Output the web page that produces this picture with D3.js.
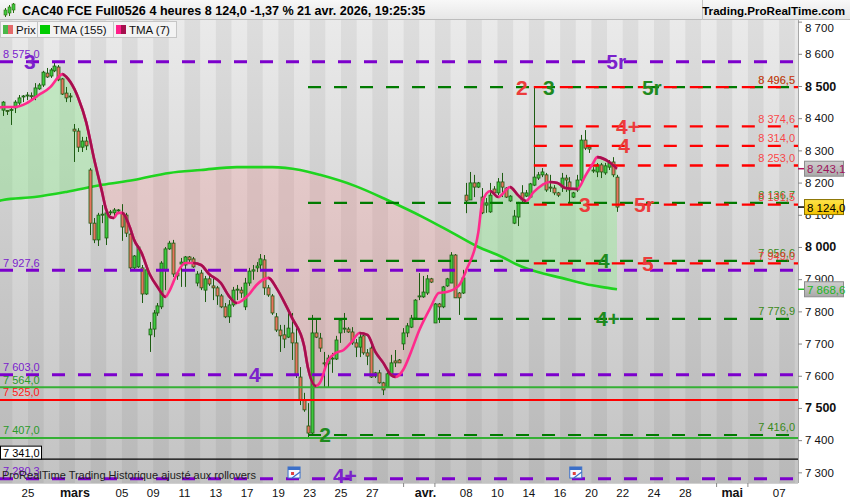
<!DOCTYPE html>
<html><head><meta charset="utf-8">
<script src="https://cdn.jsdelivr.net/npm/d3@7"></script>
<style>body{margin:0;background:#fff;} svg{display:block;font-family:"Liberation Sans",Arial,sans-serif;}</style>
</head><body><svg id="c" width="850" height="500"></svg>
<script>
// ---------- DATA ----------
const opens = [8425,8424,8425,8432,8447,8466,8469,8470,8466,8491,8503,8540,8531,8547,8559,8522,8478,8469,8366,8360,
8310,8329,8239,8074,8022,8099,8028,8106,8106,8112,8106,8099,8040,7935,7938,7935,7854,7727,7745,7795,
7814,7929,7994,8012,7919,7947,7944,7969,7963,7888,7919,7866,7901,7879,7873,7848,7814,7783,7820,7866,
7866,7814,7888,7925,7935,7944,7960,7873,7848,7783,7742,7727,7720,7733,7702,7596,7525,7444,7422,7733,
7717,7640,7637,7652,7652,7733,7745,7745,7736,7702,7689,7724,7671,7686,7609,7609,7578,7565,7602,7646,
7649,7699,7733,7751,7779,7845,7845,7857,7901,7764,7823,7814,7879,7888,7975,7857,7857,8161,8146,8199,
8186,8155,8130,8109,8180,8168,8202,8183,8143,8074,8093,8168,8158,8155,8192,8214,8224,8224,8186,8183,
8168,8186,8214,8202,8155,8177,8208,8332,8310,8236,8233,8255,8230,8248,8264,8217];
const highs = [8453,8425,8435,8456,8472,8472,8481,8480,8509,8509,8547,8556,8556,8575,8565,8525,8497,8478,8382,8369,
8342,8342,8245,8090,8106,8130,8112,8115,8121,8118,8133,8106,8043,7975,8006,7944,7935,7767,7804,7826,
7956,8000,8019,8022,7925,7966,7972,7972,7969,7925,7929,7910,7919,7904,7879,7854,7826,7835,7876,7882,
7876,7904,7935,7944,7953,7978,7975,7882,7854,7795,7758,7758,7795,7795,7751,7627,7547,7515,7789,7773,
7733,7674,7665,7671,7724,7779,7795,7751,7751,7714,7736,7733,7683,7711,7612,7618,7581,7618,7665,7680,
7652,7748,7764,7789,7838,7919,7910,7913,7904,7826,7826,7879,7904,7984,7978,7860,7929,8199,8233,8224,
8202,8183,8152,8199,8189,8214,8230,8186,8161,8115,8140,8192,8177,8199,8496.5,8233,8245,8230,8224,8192,
8171,8230,8224,8217,8171,8224,8348,8363,8317,8248,8261,8261,8261,8270,8279,8224];
const lows = [8407,8410,8379,8416,8435,8450,8456,8457,8456,8488,8497,8525,8525,8543,8515,8472,8450,8450,8264,8295,
8295,8301,8037,8012,8003,8074,8006,8099,8090,8102,8019,8031,7925,7929,7935,7826,7851,7674,7720,7786,
7807,7866,7991,7907,7898,7876,7876,7953,7935,7878,7866,7829,7879,7835,7820,7810,7779,7764,7814,7835,
7842,7804,7879,7898,7922,7925,7851,7845,7789,7736,7674,7686,7717,7649,7593,7509,7488,7407,7419,7717,
7674,7565,7565,7609,7649,7702,7733,7733,7696,7658,7658,7665,7633,7593,7593,7575,7540,7565,7596,7627,
7640,7680,7720,7748,7773,7835,7842,7851,7888,7764,7764,7810,7876,7888,7842,7789,7854,8105,8146,8155,
8183,8102,8106,8106,8161,8161,8155,8152,8140,8071,8065,8140,8155,8152,8189,8208,8217,8171,8171,8161,
8155,8171,8171,8137,8152,8171,8202,8301,8292,8230,8217,8214,8224,8239,8217,8109];
const closes = [8450,8421,8427,8450,8463,8469,8472,8468,8494,8503,8543,8528,8550,8562,8519,8475,8463,8466,8360,8310,
8329,8314,8074,8022,8099,8102,8106,8109,8115,8115,8062,8043,7935,7972,8000,7854,7929,7745,7795,7817,
7950,7994,8012,7916,7910,7953,7969,7960,7938,7916,7873,7901,7885,7873,7848,7814,7783,7820,7866,7869,
7857,7888,7925,7929,7941,7963,7873,7851,7795,7742,7724,7714,7748,7702,7602,7525,7494,7422,7733,7720,
7686,7637,7655,7655,7711,7773,7748,7736,7702,7689,7720,7671,7661,7596,7599,7578,7556,7606,7640,7640,
7640,7733,7755,7779,7835,7848,7860,7901,7891,7823,7814,7876,7901,7975,7842,7842,7904,8143,8199,8186,
8199,8106,8137,8161,8168,8202,8186,8155,8158,8096,8137,8146,8168,8196,8217,8224,8233,8177,8183,8168,
8161,8214,8208,8177,8168,8208,8332,8307,8304,8239,8255,8233,8252,8261,8224,8124];

const tma7Idx = [-1,0,3,6,9,12,14,15,16,18,19,21,23,25,26,27,28,29,30,32,33,35,37,39,41,42,44,46,48,50,52,55,57,59,62,64,67,69,71,73,76,77,79,80,82,84,86,88,90,92,94,96,98,99,101,103,105,108,110,112,115,117,120,121,123,125,128,130,132,134,138,140,142,145,147,149,150,153,155];
const tma7Val = [8433,8435,8435,8447,8472,8497,8528,8537,8528,8491,8463,8388,8273,8171,8118,8093,8090,8106,8106,8062,8025,7981,7916,7876,7845,7863,7919,7950,7950,7944,7916,7888,7848,7826,7851,7882,7904,7873,7829,7779,7693,7624,7568,7578,7646,7671,7680,7705,7733,7727,7674,7640,7602,7596,7618,7674,7739,7814,7857,7860,7879,7929,8047,8140,8174,8155,8186,8161,8143,8171,8202,8199,8183,8180,8221,8261,8279,8264,8243.1];
const tma155Idx = [-1,0,8,16,25,33,42,50,59,68,75,80,89,97,106,113,120,126,130,135,141,147,151,155];
const tma155Val = [8143,8146,8155,8171,8193,8208,8230,8239,8248,8248,8239,8224,8189,8146,8093,8047,8000,7969,7944,7922,7904,7885,7876,7868.6];

const purpleLevels = [8575.0, 7927.6, 7603.0, 7280.3];
const greenLevels = [8496.5, 8136.7, 7956.6, 7776.9, 7416.0];
const redLevels = [8496.5, 8374.6, 8314.0, 8253.0, 8131.5, 7949.0];
const solidGreen = [7564.0, 7407.0];
const solidRed = [7525.0];
const solidBlack = [7341.0];
const greenStart = 77, redStart = 134;

const annText  = ["3","4","4+","5r","2","3","5r","4+","4","3","5r","4","5","4+","2"];
const annLevel = [8575.0,7603.0,7280.3,8575.0,8496.5,8496.5,8496.5,8374.6,8314.0,8131.5,8131.5,7956.6,7949.0,7776.9,7416.0];
const annSlot  = [6.8,63.6,86.3,154.8,131,137.8,163.8,157.8,156.8,146.9,161.8,151.7,162.8,152.7,81.3];
const annKind  = ["p","p","p","p","r","g","g","r","r","r","r","g","r","g","g"];

const yTicks = [7300,7400,7500,7600,7700,7800,7900,8000,8100,8200,8300,8400,8500,8600,8700];
const yBold = [7500,8000,8500];
const dayLabels = ["25","mars","05","09","11","13","17","19","23","25","27","avr.","08","10","14","16","20","22","24","28","mai","07"];
const dayLabelPos = [0,3,6,8,10,12,14,16,18,20,22,25.4,28,30,32,34,36,38,40,42,45,48];
const monthLabels = ["mars","avr.","mai"];
const monthTickDays = [24,26,44,46];
const eventDays = [17,35];
const lastClose = 8124.0, lastTma7 = 8243.1, lastTma155 = 7868.6;

// ---------- SETUP ----------
const svg = d3.select('#c');
const PR = 798, PT = 20, PB = 483;
const x = d3.scaleLinear().domain([0,155]).range([3,617]);
const xd = d3.scaleLinear().domain([0,48]).range([28,779.2]);
const y = d3.scaleLinear().domain([7270,8705]).range([482,20]);
const fr = (v,dec) => { const s=v.toFixed(dec); const [a,b]=s.split('.'); const A=a.replace(/\B(?=(\d{3})+(?!\d))/g,' '); return b!==undefined? A+','+b : A; };

const defs = svg.append('defs');
const bg = defs.append('linearGradient').attr('id','bg').attr('x1',0).attr('y1',0).attr('x2',0).attr('y2',1);
bg.append('stop').attr('offset','0%').attr('stop-color','#eaeaea');
bg.append('stop').attr('offset','100%').attr('stop-color','#c3c3c3');
defs.append('clipPath').attr('id','plot').append('rect').attr('x',0).attr('y',PT).attr('width',PR).attr('height',PB-PT);

svg.append('rect').attr('width',850).attr('height',500).attr('fill','#fff');
const plot = svg.append('g').attr('clip-path','url(#plot)');
plot.append('rect').attr('x',0).attr('y',PT).attr('width',PR).attr('height',PB-PT).attr('fill','url(#bg)');
for (let d=-2; d<=50; d++) {
  if (d%2===0) plot.append('rect').attr('x',xd(d)).attr('y',PT).attr('width',xd(d+1)-xd(d)).attr('height',PB-PT).attr('fill','rgba(0,0,0,0.055)');
}

// TMA fills
const t7 = tma7Idx.map((i,k)=>[i,tma7Val[k]]);
const t155 = tma155Idx.map((i,k)=>[i,tma155Val[k]]);
const curve = d3.curveMonotoneX;
const areaTop = d3.area().x(d=>x(d[0])).y0(PT-5).y1(d=>y(d[1])).curve(curve);
const areaBot = d3.area().x(d=>x(d[0])).y0(PB+5).y1(d=>y(d[1])).curve(curve);
defs.append('clipPath').attr('id','above155').append('path').attr('d',areaTop(t155));
defs.append('clipPath').attr('id','below155').append('path').attr('d',areaBot(t155));
plot.append('g').attr('clip-path','url(#above155)').append('path').attr('d',areaBot(t7)).attr('fill','rgba(120,235,120,0.32)');
plot.append('g').attr('clip-path','url(#below155)').append('path').attr('d',areaTop(t7)).attr('fill','rgba(250,140,140,0.24)');

const line = d3.line().x(d=>x(d[0])).y(d=>y(d[1])).curve(curve);
plot.append('path').attr('d',line(t155)).attr('fill','none').attr('stroke','#1fd41f').attr('stroke-width',2.6);

// candles
const cg = plot.append('g');
opens.forEach((o,i)=>{
  const c = closes[i], h = highs[i], l = lows[i];
  const cx = Math.round(x(i))+0.5;
  cg.append('line').attr('x1',cx).attr('x2',cx).attr('y1',y(h)).attr('y2',y(l)).attr('stroke','#1d5c12').attr('stroke-width',1);
  const top = y(Math.max(o,c)), bot = y(Math.min(o,c));
  cg.append('rect').attr('x',cx-1.5).attr('y',top).attr('width',3).attr('height',Math.max(1,bot-top))
    .attr('fill', c>=o ? '#3fc83f' : '#e8735f').attr('stroke','#1d5c12').attr('stroke-width',0.8);
});

// levels
const lv = plot.append('g');
function hline(v, x0, color, w, dash){
  const l = lv.append('line').attr('x1',x0).attr('x2',PR).attr('y1',y(v)).attr('y2',y(v)).attr('stroke',color).attr('stroke-width',w);
  if (dash) l.attr('stroke-dasharray',dash);
}
purpleLevels.forEach(v=>hline(v,0,'#7c00cc',3,'13,13'));
greenLevels.forEach(v=>hline(v,x(greenStart),'#007a00',2.2,'13,13'));
redLevels.forEach(v=>hline(v,x(redStart),'#ff0000',2.4,'13,13'));
solidGreen.forEach(v=>hline(v,0,'#35b035',2));
solidRed.forEach(v=>hline(v,0,'#ff0000',2));
solidBlack.forEach(v=>hline(v,0,'#000',1.2));

// TMA7 line: pink when rising, crimson when falling
plot.append('path').attr('d',line(t7)).attr('fill','none').attr('stroke','#ff2a8c').attr('stroke-width',2.6);
const fallClip = defs.append('clipPath').attr('id','fall');
for (let k=1;k<t7.length;k++){
  if (t7[k][1] < t7[k-1][1]) fallClip.append('rect').attr('x',x(t7[k-1][0])).attr('y',0).attr('width',x(t7[k][0])-x(t7[k-1][0])+0.3).attr('height',500);
}
plot.append('g').attr('clip-path','url(#fall)').append('path').attr('d',line(t7)).attr('fill','none').attr('stroke','#a5104e').attr('stroke-width',2.6);

// big annotations
const annColor = {p:'#7b22cc', r:'#ec3b3b', g:'#1e8a1e'};
annText.forEach((t,k)=>{
  plot.append('text').attr('x',x(annSlot[k])).attr('y',Math.min(y(annLevel[k])+7.5, PB)).attr('text-anchor','middle')
    .attr('font-size',21).attr('font-weight','bold').attr('fill',annColor[annKind[k]]).text(t);
});

// right level labels
greenLevels.forEach(v=>plot.append('text').attr('x',795).attr('y',y(v)-3.5).attr('text-anchor','end').attr('font-size',11).attr('fill','#3a8a1a').text(fr(v,1)));
redLevels.forEach(v=>plot.append('text').attr('x',795).attr('y',y(v)-3.5).attr('text-anchor','end').attr('font-size',11).attr('fill','#ff2a2a').attr('fill-opacity',0.85).text(fr(v,1)));

// left labels
purpleLevels.forEach(v=>plot.append('text').attr('x',3).attr('y',y(v)-3.5).attr('font-size',11).attr('fill','#7b22cc').text(fr(v,1)));
solidGreen.forEach(v=>plot.append('text').attr('x',3).attr('y',y(v)-3.5).attr('font-size',11).attr('fill','#2a9a2a').text(fr(v,1)));
solidRed.forEach(v=>plot.append('text').attr('x',3).attr('y',y(v)-3.5).attr('font-size',11).attr('fill','#ff1a1a').text(fr(v,1)));
solidBlack.forEach(v=>{
  plot.append('rect').attr('x',0.5).attr('y',y(v)-13).attr('width',41).attr('height',13).attr('fill','#fff').attr('stroke','#000').attr('stroke-width',1);
  plot.append('text').attr('x',3).attr('y',y(v)-2.5).attr('font-size',11).attr('fill','#000').text(fr(v,1));
});

// footer text + event icons
plot.append('text').attr('x',2).attr('y',479).attr('font-size',11).attr('fill','#222').text('ProRealTime Trading  Historique ajusté aux rollovers');
eventDays.forEach(d=>{
  const cx = xd(d), g = plot.append('g').attr('transform',`translate(${cx-6},467)`);
  g.append('rect').attr('width',12).attr('height',11).attr('fill','#f4f8ff').attr('stroke','#3b6fc8').attr('stroke-width',1);
  g.append('rect').attr('width',12).attr('height',3).attr('fill','#3b6fc8');
  g.append('rect').attr('x',3).attr('y',5).attr('width',3).attr('height',3).attr('fill','#e04040');
  g.append('line').attr('x1',4).attr('y1',11).attr('x2',12).attr('y2',5).attr('stroke','#3b6fc8').attr('stroke-width',1.2);
});

// ---------- AXES ----------
svg.append('rect').attr('x',PR).attr('y',PT).attr('width',850-PR).attr('height',500-PT).attr('fill','#fff');
svg.append('rect').attr('x',0).attr('y',PB).attr('width',PR).attr('height',500-PB).attr('fill','#fff');
const yAxis = d3.axisRight(y).tickValues(yTicks).tickSize(4).tickSizeOuter(0).tickFormat(v=>fr(v,0));
const ya = svg.append('g').attr('transform',`translate(${PR},0)`).call(yAxis);
ya.select('.domain').attr('stroke','#a8a8a8').attr('d',`M0.5,${PT}V${PB}`);
ya.selectAll('.tick line').attr('stroke','#888');
ya.selectAll('.tick text').attr('x',7).attr('fill','#111').attr('font-family','"Liberation Sans",Arial,sans-serif')
  .attr('font-size',d=>yBold.includes(d)?12.5:11.5).attr('font-weight',d=>yBold.includes(d)?'bold':'normal')
  .attr('transform',d=>y(d)<28?`translate(0,${28-y(d)})`:null);
svg.append('line').attr('x1',0).attr('x2',PR).attr('y1',PB+0.5).attr('y2',PB+0.5).attr('stroke','#d0d0d0');

dayLabels.forEach((t,k)=>{
  const m = monthLabels.includes(t);
  svg.append('text').attr('x',xd(dayLabelPos[k])).attr('y',497).attr('text-anchor','middle')
    .attr('font-size',m?12.5:11.5).attr('font-weight',m?'bold':'normal').attr('fill','#111').text(t);
});
monthTickDays.forEach(d=>svg.append('line').attr('x1',xd(d)).attr('x2',xd(d)).attr('y1',PB).attr('y2',PB+4).attr('stroke','#888'));

// price boxes
function priceBox(v, fill1, fill2, stroke, txt, tick){
  const yy = y(v), id = 'pb'+Math.round(v);
  const gr = defs.append('linearGradient').attr('id',id).attr('x1',0).attr('y1',0).attr('x2',0).attr('y2',1);
  gr.append('stop').attr('offset','0%').attr('stop-color',fill1);
  gr.append('stop').attr('offset','100%').attr('stop-color',fill2);
  svg.append('line').attr('x1',PR).attr('x2',805).attr('y1',yy).attr('y2',yy).attr('stroke',tick).attr('stroke-width',1.5);
  svg.append('rect').attr('x',804.5).attr('y',yy-7.5).attr('width',39).attr('height',15).attr('fill',`url(#${id})`).attr('stroke',stroke);
  svg.append('text').attr('x',807).attr('y',yy+4.5).attr('font-size',11.5).attr('fill',txt).text(fr(v,1));
}
priceBox(lastTma7,'#cfcfcf','#a9a9a9','#8c8c8c','#a0155c','#b0155c');
priceBox(lastClose,'#ffe44a','#f2c200','#8a7200','#000','#000');
priceBox(lastTma155,'#cfcfcf','#a9a9a9','#8c8c8c','#22b422','#22c022');

// ---------- HEADER & LEGEND ----------
const hg = defs.append('linearGradient').attr('id','hdr').attr('x1',0).attr('y1',0).attr('x2',0).attr('y2',1);
hg.append('stop').attr('offset','0%').attr('stop-color','#f8f8f8');
hg.append('stop').attr('offset','100%').attr('stop-color','#e6e6e6');
svg.append('rect').attr('x',0).attr('y',0).attr('width',850).attr('height',PT).attr('fill','url(#hdr)');
svg.append('line').attr('x1',0).attr('x2',850).attr('y1',PT-0.5).attr('y2',PT-0.5).attr('stroke','#bdbdbd');
svg.append('line').attr('x1',702.5).attr('x2',702.5).attr('y1',0).attr('y2',PT).attr('stroke','#c4c4c4');
[[5,8,14,10,12],[9,5,13,7,10],[13,3,10,4,7]].forEach(([cx,t,b,bt,bb])=>{
  svg.append('line').attr('x1',cx+0.5).attr('x2',cx+0.5).attr('y1',t).attr('y2',b+3).attr('stroke','#2e6e10');
  svg.append('rect').attr('x',cx-1).attr('y',bt).attr('width',3).attr('height',bb-bt+3).attr('fill','#3fc83f').attr('stroke','#2e6e10').attr('stroke-width',0.6);
});
svg.append('text').attr('x',22).attr('y',15).attr('font-size',12.6).attr('font-weight','bold').attr('fill','#000')
  .text('CAC40 FCE Full0526 4 heures 8 124,0 -1,37 % 21 avr. 2026, 19:25:35');
svg.append('text').attr('x',845).attr('y',15).attr('text-anchor','end').attr('font-size',11.6).attr('font-weight','bold').attr('fill','#000').text('Trading.ProRealTime.com');

const legend = [
  {x:0,w:37,label:'Prix',c1:'#49b749',c2:'#e46a6a'},
  {x:37,w:76,label:'TMA (155)',c1:'#00cc00',c2:'#00cc00'},
  {x:113,w:63,label:'TMA (7)',c1:'#ff1f8a',c2:'#a5104e'}
];
legend.forEach(L=>{
  svg.append('rect').attr('x',L.x+0.5).attr('y',21.5).attr('width',L.w).attr('height',16).attr('fill','#f3f3f3').attr('stroke','#c6c6c6');
  svg.append('rect').attr('x',L.x+3).attr('y',25).attr('width',5).attr('height',9).attr('fill',L.c1);
  svg.append('rect').attr('x',L.x+8).attr('y',25).attr('width',5).attr('height',9).attr('fill',L.c2);
  svg.append('text').attr('x',L.x+16).attr('y',34).attr('font-size',11.5).attr('fill','#111').text(L.label);
});
</script></body></html>
